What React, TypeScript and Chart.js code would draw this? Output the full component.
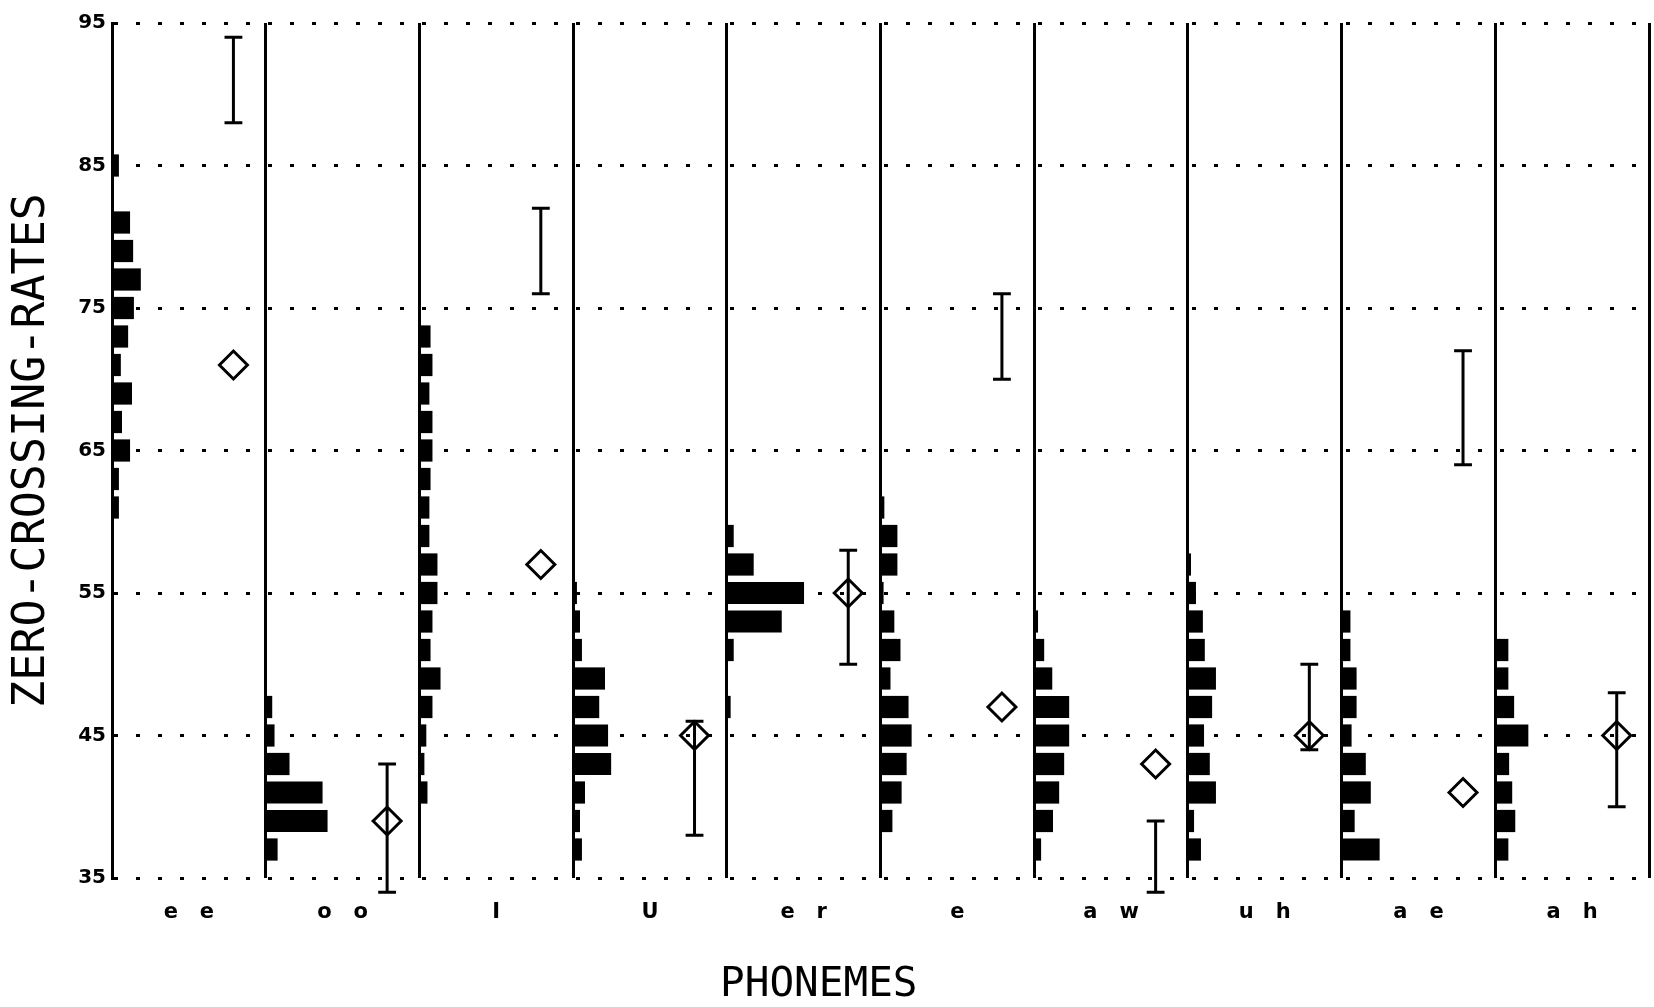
import React, { useEffect, useRef } from 'react';
import { Chart, registerables } from 'chart.js';

Chart.register(...registerables);

// ---------------- data ----------------
const PHONEMES = ['ee', 'oo', 'I', 'U', 'er', 'e', 'aw', 'uh', 'ae', 'ah'];

// histogram bin centres (zero-crossing rate)
const BINS = [37, 39, 41, 43, 45, 47, 49, 51, 53, 55, 57, 59, 61, 63, 65, 67, 69, 71, 73, 75, 77, 79, 81, 83, 85];

// histogram counts per phoneme, one per bin above
const HIST_EE = [0, 0, 0, 0, 0, 0, 0, 0, 0, 0, 0, 0, 1.8, 1.8, 4.7, 2.6, 5.2, 2.3, 4.2, 5.7, 7.5, 5.5, 4.7, 0, 1.8];
const HIST_OO = [3.1, 16.1, 14.8, 6.2, 2.3, 1.7, 0, 0, 0, 0, 0, 0, 0, 0, 0, 0, 0, 0, 0, 0, 0, 0, 0, 0, 0];
const HIST_I = [0, 0, 2.1, 1.3, 1.8, 3.4, 5.5, 2.9, 3.4, 4.7, 4.7, 2.6, 2.6, 2.9, 3.4, 3.4, 2.6, 3.4, 2.9, 0, 0, 0, 0, 0, 0];
const HIST_U = [2.3, 1.8, 3.1, 9.9, 9.1, 6.8, 8.3, 2.3, 1.8, 1.0, 0, 0, 0, 0, 0, 0, 0, 0, 0, 0, 0, 0, 0, 0, 0];
const HIST_ER = [0, 0, 0, 0, 0, 1.0, 0, 1.8, 14.3, 20.1, 7.0, 1.8, 0, 0, 0, 0, 0, 0, 0, 0, 0, 0, 0, 0, 0];
const HIST_E = [0, 3.1, 5.5, 6.8, 8.1, 7.3, 2.6, 5.2, 3.6, 0.8, 4.4, 4.4, 1.0, 0, 0, 0, 0, 0, 0, 0, 0, 0, 0, 0, 0];
const HIST_AW = [1.8, 4.9, 6.5, 7.8, 9.1, 9.1, 4.7, 2.6, 1.0, 0, 0, 0, 0, 0, 0, 0, 0, 0, 0, 0, 0, 0, 0, 0, 0];
const HIST_UH = [3.4, 1.6, 7.3, 5.7, 4.2, 6.3, 7.3, 4.4, 3.9, 2.1, 0.8, 0, 0, 0, 0, 0, 0, 0, 0, 0, 0, 0, 0, 0, 0];
const HIST_AE = [9.9, 3.4, 7.6, 6.3, 2.6, 3.9, 3.9, 2.3, 2.3, 0, 0, 0, 0, 0, 0, 0, 0, 0, 0, 0, 0, 0, 0, 0, 0];
const HIST_AH = [3.4, 5.2, 4.4, 3.6, 8.6, 4.9, 3.4, 3.4, 0, 0, 0, 0, 0, 0, 0, 0, 0, 0, 0, 0, 0, 0, 0, 0, 0];

// mean (diamond) and range (I-bar) per phoneme
const MEANS = [71, 39, 57, 45, 55, 47, 43, 45, 41, 45];
const RANGE_LOW = [88, 34, 76, 38, 50, 70, 34, 44, 64, 40];
const RANGE_HIGH = [94, 43, 82, 46, 58, 76, 39, 50, 72, 48];

const Y_TICKS = [35, 45, 55, 65, 75, 85, 95];

// ---------------- derived ----------------
const HISTOGRAMS = [HIST_EE, HIST_OO, HIST_I, HIST_U, HIST_ER, HIST_E, HIST_AW, HIST_UH, HIST_AE, HIST_AH];
const COUNT_SCALE = 40; // counts spanning one panel width
const MARKER_OFFSET = 0.79; // position of markers within a panel
const CAP_HALF = 0.058; // half width of range caps, in panel units

const X_TICKS: number[] = [];
for (let i = 0; i <= PHONEMES.length; i++) {
  X_TICKS.push(i);
  if (i < PHONEMES.length) X_TICKS.push(i + 0.5);
}

export default function App() {
  const ref = useRef<HTMLCanvasElement>(null);

  useEffect(() => {
    if (!ref.current) return;

    const histDatasets = HISTOGRAMS.map((counts, i) => ({
      type: 'bar' as const,
      indexAxis: 'y' as const,
      grouped: false,
      data: BINS.map((b, k) => ({ y: b, x: [i, i + counts[k] / COUNT_SCALE] })).filter((_, k) => counts[k] > 0),
      backgroundColor: '#000',
      borderWidth: 0,
      barPercentage: 0.78,
      categoryPercentage: 1,
    }));

    // I-shaped range markers: bottom cap, stem, top cap
    const rangeDatasets = RANGE_LOW.map((lo, i) => {
      const c = i + MARKER_OFFSET;
      const hi = RANGE_HIGH[i];
      return {
        type: 'line' as const,
        data: [
          { x: c - CAP_HALF, y: lo },
          { x: c + CAP_HALF, y: lo },
          { x: c, y: lo },
          { x: c, y: hi },
          { x: c - CAP_HALF, y: hi },
          { x: c + CAP_HALF, y: hi },
        ],
        borderColor: '#000',
        borderWidth: 3,
        borderJoinStyle: 'bevel' as const,
        borderCapStyle: 'butt' as const,
        showLine: true,
        fill: false,
        clip: false,
        tension: 0,
        pointRadius: 0,
      };
    });

    const meanDataset = {
      type: 'scatter' as const,
      data: MEANS.map((m, i) => ({ x: i + MARKER_OFFSET, y: m })),
      pointStyle: 'rectRot' as const,
      pointRadius: 14,
      pointBorderWidth: 3,
      pointBorderColor: '#000',
      pointBackgroundColor: 'rgba(0,0,0,0)',
      borderColor: '#000',
      backgroundColor: 'rgba(0,0,0,0)',
      clip: false,
    };

    const chart = new Chart(ref.current, {
      type: 'scatter',
      data: { datasets: [meanDataset, ...rangeDatasets, ...histDatasets] as any },
      options: {
        responsive: false,
        devicePixelRatio: 1,
        animation: false,
        events: [],
        layout: { autoPadding: false, padding: { top: 23, right: 5, bottom: 0, left: 0 } },
        plugins: { legend: { display: false }, tooltip: { enabled: false } },
        scales: {
          x: {
            type: 'linear',
            min: 0,
            max: PHONEMES.length,
            offset: false,
            afterBuildTicks: (s: any) => {
              s.ticks = X_TICKS.map((v) => ({ value: v }));
            },
            afterFit: (s: any) => {
              s.height = 129;
              s.paddingLeft = 0;
              s.paddingRight = 0;
            },
            ticks: {
              autoSkip: false,
              maxRotation: 0,
              minRotation: 0,
              color: '#000',
              padding: 3,
              font: { family: 'DejaVu Sans', size: 21, weight: 'bold' },
              callback: (v: any) => {
                const n = Number(v);
                if (Number.isInteger(n)) return '';
                const p = PHONEMES[Math.floor(n)];
                return p ? p.split('').join('   ') : '';
              },
            },
            grid: {
              color: (c: any) => (c.tick && Number.isInteger(c.tick.value) ? '#000' : 'rgba(0,0,0,0)'),
              lineWidth: 3,
              drawTicks: true,
              tickLength: 19,
              tickWidth: 0,
              tickColor: 'rgba(0,0,0,0)',
              offset: false,
            },
            border: { display: false },
            title: {
              display: true,
              text: 'PHONEMES     ',
              color: '#000',
              font: { family: 'DejaVu Sans Mono', size: 41, lineHeight: 1 },
              padding: { top: 0, bottom: 1 },
            },
          },
          y: {
            type: 'linear',
            min: 35,
            max: 95,
            offset: false,
            afterBuildTicks: (s: any) => {
              s.ticks = Y_TICKS.map((v) => ({ value: v }));
            },
            afterFit: (s: any) => {
              s.width = 112;
            },
            ticks: {
              color: '#000',
              padding: 6,
              font: { family: 'DejaVu Sans', size: 20, weight: 'bold' },
            },
            grid: { color: '#000', lineWidth: 3, drawTicks: false, offset: false },
            border: { display: true, color: '#000', width: 3, dash: [4, 18] },
            title: {
              display: true,
              text: 'ZERO-CROSSING-RATES',
              color: '#000',
              font: { family: 'DejaVu Sans Mono', size: 45, lineHeight: 1 },
              padding: { top: 10, bottom: 0 },
            },
          },
        },
      } as any,
    });

    return () => chart.destroy();
  }, []);

  return (
    <div style={{ position: 'fixed', left: 0, top: 0, width: 1654, height: 1007, background: '#fff' }}>
      <canvas ref={ref} width={1654} height={1007} style={{ display: 'block' }} />
    </div>
  );
}
